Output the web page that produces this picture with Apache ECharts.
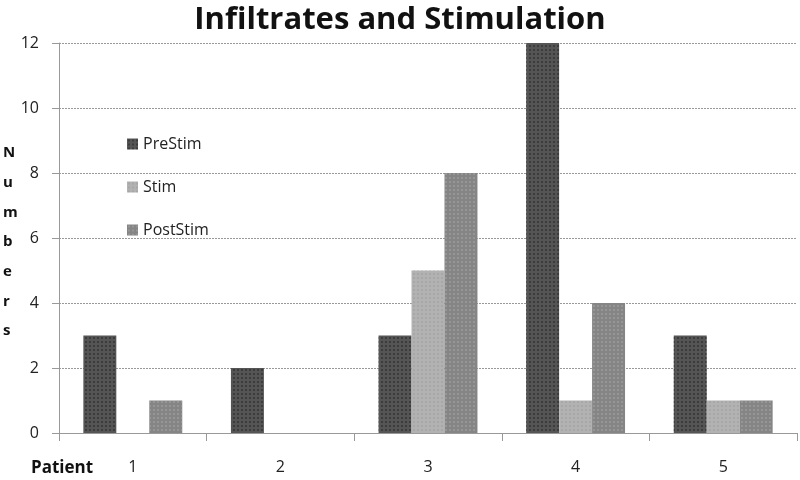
<!DOCTYPE html>
<html><head><meta charset="utf-8">
<script src="https://cdn.jsdelivr.net/npm/echarts@6/dist/echarts.min.js"></script>
<style>html,body{margin:0;padding:0;background:#fff}#c{width:800px;height:480px}</style>
</head><body><div id="c"></div>
<script>
const categories = ['1', '2', '3', '4', '5'];
const preStim = [3, 2, 3, 12, 3];
const stim = [0, 0, 5, 1, 1];
const postStim = [1, 0, 8, 4, 1];
const yTicks = [0, 2, 4, 6, 8, 10, 12];

const chart = echarts.init(document.getElementById('c'));
const font = '"Open Sans", Lato, sans-serif';
function dec(c){ return {symbol:'circle', symbolSize:0.5, color:c, dashArrayX:[4,0], dashArrayY:[4,0], rotation:0}; }
chart.setOption({
  animation: false,
  title: {text: 'Infiltrates and Stimulation', left: 'center', top: -3,
    textStyle: {fontFamily: font, fontWeight: 'bold', fontSize: 31, color: '#111', lineHeight: 36}},
  legend: {orient: 'vertical', left: 122, top: 131, itemGap: 27, itemWidth: 11, itemHeight: 11,
    icon: 'rect', textStyle: {fontFamily: font, fontSize: 16, color: '#222'},
    data: ['PreStim', 'Stim', 'PostStim']},
  grid: {left: 59, right: 3, top: 43, bottom: 47},
  xAxis: {type: 'category', data: categories,
    axisLine: {lineStyle: {color: '#999'}},
    axisTick: {show: true, length: 8, lineStyle: {color: '#999'}},
    axisLabel: {margin: 26, fontFamily: font, fontSize: 16, color: '#222'}},
  yAxis: {type: 'value', min: yTicks[0], max: yTicks[yTicks.length-1], interval: 2,
    axisLine: {show: true, lineStyle: {color: '#999'}},
    axisTick: {show: true, inside: false, length: 7, lineStyle: {color: '#999'}},
    splitLine: {lineStyle: {color: '#999', type: [2, 1]}},
    axisLabel: {margin: 20, fontFamily: font, fontSize: 16, color: '#222'}},
  graphic: [
    {type: 'text', left: 31, top: 460, style: {text: 'Patient', font: 'bold 17px ' + font, fill: '#111'}},
    {type: 'text', left: 3, top: 138, style: {text: 'N\nu\nm\nb\ne\nr\ns', font: 'bold 15px ' + font, fill: '#111', lineHeight: 29.7, align: 'center', x: 8}}
  ],
  series: [
    {name: 'PreStim', type: 'bar', data: preStim, barGap: '0%', barCategoryGap: '33%',
      itemStyle: {color: '#555555', decal: dec('rgba(30,30,30,0.6)')}},
    {name: 'Stim', type: 'bar', data: stim,
      itemStyle: {color: '#b2b2b2', decal: dec('rgba(150,150,150,0.5)')}},
    {name: 'PostStim', type: 'bar', data: postStim,
      itemStyle: {color: '#858585', decal: dec('rgba(180,180,180,0.5)')}}
  ]
});
</script></body></html>
